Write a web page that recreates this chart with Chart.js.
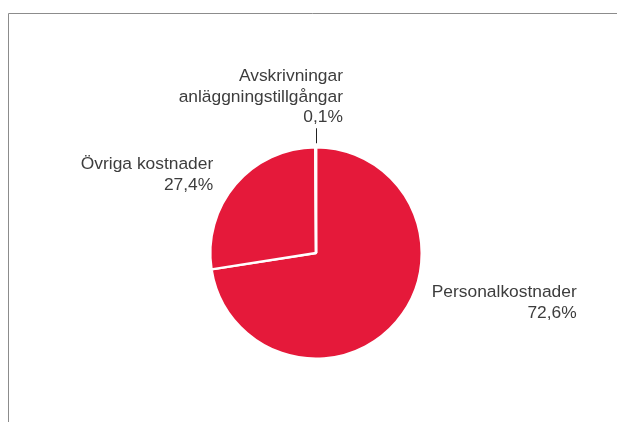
<!DOCTYPE html>
<html>
<head>
<meta charset="utf-8">
<script src="https://cdn.jsdelivr.net/npm/chart.js@4/dist/chart.umd.min.js"></script>
<style>
  html, body { margin: 0; padding: 0; background: #ffffff; }
  #wrap { width: 617px; height: 422px; position: relative; }
</style>
</head>
<body>
<div id="wrap"><canvas id="c" width="617" height="422"></canvas></div>
<script>
const categories = ["Personalkostnader", "Övriga kostnader", "Avskrivningar anläggningstillgångar"];
const labelLines = [["Personalkostnader"], ["Övriga kostnader"], ["Avskrivningar", "anläggningstillgångar"]];
const values = [72.6, 27.4, 0.1];
const valueLabels = ["72,6%", "27,4%", "0,1%"];

const sliceColor = "#e5193a";
const textColor = "#3d3d3d";
const FONT = '17.4px "Liberation Sans", Arial, sans-serif';

const framePlugin = {
  id: "frame",
  beforeDraw(chart) {
    const ctx = chart.ctx;
    ctx.save();
    ctx.strokeStyle = "#8c8c8c";
    ctx.lineWidth = 1;
    ctx.beginPath();
    ctx.moveTo(8.5, 422);
    ctx.lineTo(8.5, 13.5);
    ctx.lineTo(617, 13.5);
    ctx.stroke();
    ctx.restore();
  }
};

const labelPlugin = {
  id: "pieLabels",
  afterDraw(chart) {
    const ctx = chart.ctx;
    const meta = chart.getDatasetMeta(0);
    const arc0 = meta.data[0];
    const cx = arc0.x, cy = arc0.y, r = arc0.outerRadius;
    ctx.save();
    ctx.font = FONT;
    ctx.fillStyle = textColor;
    ctx.textAlign = "right";
    ctx.textBaseline = "alphabetic";
    const anchors = [
      { dx: r + 155, dy: 44 },
      { dx: -r + 3, dy: -84 },
      { dx: 27, dy: -172 }
    ];
    const lh = 20.5;
    for (let i = 0; i < categories.length; i++) {
      const a = anchors[i];
      const lines = labelLines[i].concat([valueLabels[i]]);
      lines.forEach((t, k) => {
        ctx.fillText(t, cx + a.dx, cy + a.dy + k * lh);
      });
    }
    const small = meta.data[2];
    const ang = (small.startAngle + small.endAngle) / 2;
    const x = Math.round(cx + Math.cos(ang) * r) + 0.5;
    ctx.strokeStyle = "#222";
    ctx.lineWidth = 1;
    ctx.beginPath();
    ctx.moveTo(x, cy + Math.sin(ang) * (r + 4));
    ctx.lineTo(x, cy + Math.sin(ang) * (r + 19));
    ctx.stroke();
    ctx.restore();
  }
};

new Chart(document.getElementById("c"), {
  type: "pie",
  data: {
    labels: categories,
    datasets: [{
      data: values,
      backgroundColor: sliceColor,
      borderColor: "#ffffff",
      borderWidth: 2.5,
      hoverOffset: 0
    }]
  },
  options: {
    responsive: false,
    animation: false,
    events: [],
    layout: { padding: { top: 146, bottom: 62, left: 209, right: 194 } },
    plugins: { legend: { display: false }, tooltip: { enabled: false } }
  },
  plugins: [framePlugin, labelPlugin]
});
</script>
</body>
</html>
